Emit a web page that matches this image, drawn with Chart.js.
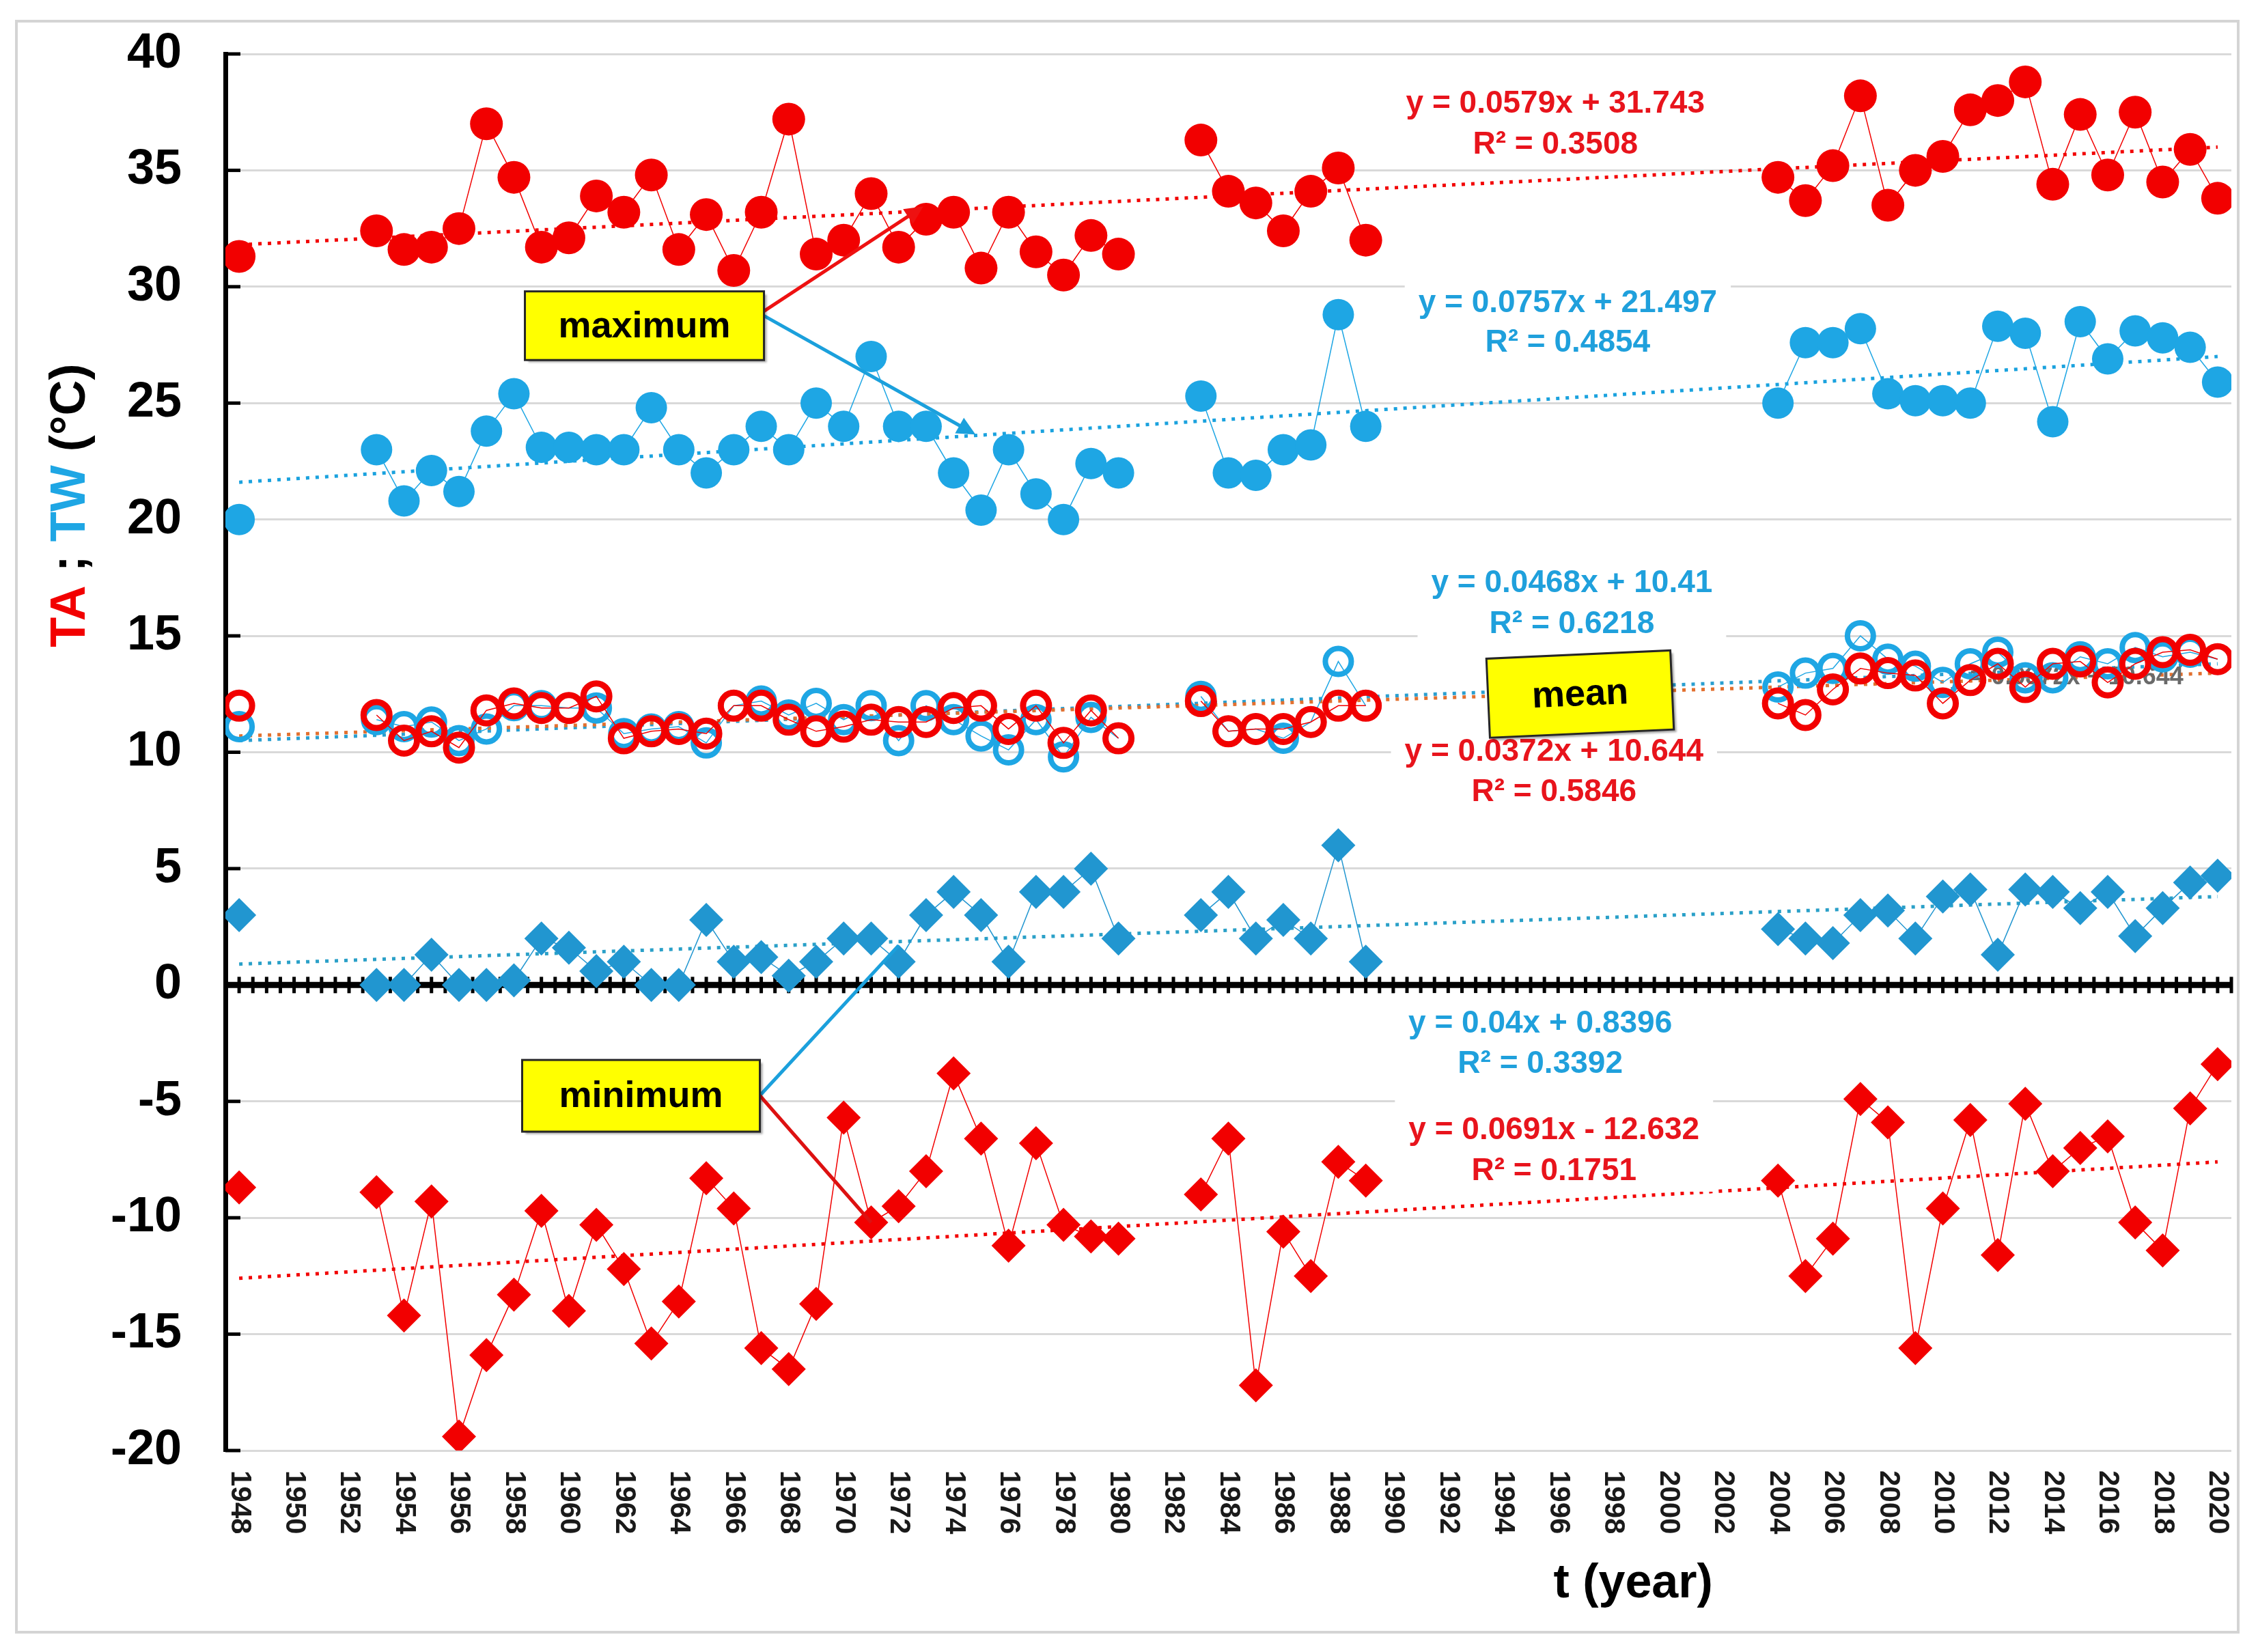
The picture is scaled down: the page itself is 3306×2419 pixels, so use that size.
<!DOCTYPE html>
<html>
<head>
<meta charset="utf-8">
<title>TA ; TW</title>
<script src="https://cdn.jsdelivr.net/npm/chart.js@4.4.1/dist/chart.umd.min.js"></script>
<style>
	html, body { margin: 0; padding: 0; background: #fff; }
	canvas { display: block; }
</style>
</head>
<body>
<canvas id="graficoTemperaturas" width="3306" height="2419"></canvas>
<script>
// observed years (gaps 1949-1952, 1981-1982, 1990-2003)
var years = [1948,
	1953, 1954, 1955, 1956, 1957, 1958, 1959, 1960, 1961, 1962, 1963, 1964, 1965, 1966,
	1967, 1968, 1969, 1970, 1971, 1972, 1973, 1974, 1975, 1976, 1977, 1978, 1979, 1980,
	1983, 1984, 1985, 1986, 1987, 1988, 1989,
	2004, 2005, 2006, 2007, 2008, 2009, 2010, 2011, 2012, 2013, 2014, 2015, 2016, 2017,
	2018, 2019, 2020];

var taMax = [31.3,
	32.4, 31.6, 31.7, 32.5, 37.0, 34.7, 31.7, 32.1, 33.9, 33.2, 34.8, 31.6, 33.1, 30.7,
	33.2, 37.2, 31.4, 32.0, 34.0, 31.7, 32.9, 33.2, 30.8, 33.2, 31.5, 30.5, 32.2, 31.4,
	36.3, 34.1, 33.6, 32.4, 34.1, 35.1, 32.0,
	34.7, 33.7, 35.2, 38.2, 33.5, 35.0, 35.6, 37.6, 38.0, 38.8, 34.4, 37.4, 34.8, 37.5,
	34.5, 35.9, 33.8];

var twMax = [20.0,
	23.0, 20.8, 22.1, 21.2, 23.8, 25.4, 23.1, 23.1, 23.0, 23.0, 24.8, 23.0, 22.0, 23.0,
	24.0, 23.0, 25.0, 24.0, 27.0, 24.0, 24.0, 22.0, 20.4, 23.0, 21.1, 20.0, 22.4, 22.0,
	25.3, 22.0, 21.9, 23.0, 23.2, 28.8, 24.0,
	25.0, 27.6, 27.6, 28.2, 25.4, 25.1, 25.1, 25.0, 28.3, 28.0, 24.2, 28.5, 26.9, 28.1,
	27.8, 27.4, 25.9];

var taMean = [12.0,
	11.6, 10.5, 10.9, 10.2, 11.8, 12.1, 11.9, 11.9, 12.4, 10.6, 10.9, 11.0, 10.8, 12.0,
	12.0, 11.4, 10.9, 11.1, 11.4, 11.3, 11.3, 11.9, 12.0, 11.0, 12.0, 10.4, 11.8, 10.6,
	12.2, 10.9, 11.0, 11.0, 11.3, 12.0, 12.0,
	12.1, 11.6, 12.7, 13.6, 13.4, 13.3, 12.1, 13.1, 13.8, 12.8, 13.8, 13.9, 13.0, 13.8,
	14.3, 14.4, 14.0];

var twMean = [11.1,
	11.4, 11.1, 11.3, 10.5, 11.0, 12.0, 12.0, 11.9, 11.9, 10.8, 11.0, 11.1, 10.4, 12.0,
	12.2, 11.6, 12.1, 11.4, 12.0, 10.5, 12.0, 11.4, 10.7, 10.1, 11.4, 9.8, 11.5, 10.6,
	12.4, 10.9, 11.0, 10.6, 11.3, 13.9, 12.0,
	12.8, 13.4, 13.6, 15.0, 14.0, 13.7, 13.0, 13.8, 14.3, 13.2, 13.2, 14.1, 13.8, 14.5,
	14.1, 14.3, 14.0];

var twMin = [3.0,
	0.0, 0.0, 1.3, 0.0, 0.0, 0.2, 2.0, 1.6, 0.6, 1.0, 0.0, 0.0, 2.8, 1.0,
	1.2, 0.4, 1.0, 2.0, 2.0, 1.0, 3.0, 4.0, 3.0, 1.0, 4.0, 4.0, 5.0, 2.0,
	3.0, 4.0, 2.0, 2.8, 2.0, 6.0, 1.0,
	2.4, 2.0, 1.8, 3.0, 3.2, 2.0, 3.8, 4.1, 1.3, 4.1, 4.0, 3.3, 4.0, 2.1,
	3.3, 4.4, 4.7];

var taMin = [-8.7,
	-8.9, -14.2, -9.3, -19.4, -15.9, -13.3, -9.7, -14.0, -10.3, -12.2, -15.4, -13.6, -8.3, -9.6,
	-15.6, -16.5, -13.7, -5.7, -10.2, -9.5, -8.0, -3.8, -6.6, -11.2, -6.8, -10.3, -10.8, -10.9,
	-9.0, -6.6, -17.2, -10.6, -12.5, -7.6, -8.4,
	-8.4, -12.5, -10.9, -4.9, -5.9, -15.6, -9.6, -5.8, -11.6, -5.1, -8.0, -7.0, -6.5, -10.2,
	-11.4, -5.3, -3.4];

// linear trend lines, start and end values
var trendYears = [1948, 2020];
var taMaxTrend = [31.8, 36.0];
var twMaxTrend = [21.6, 27.0];
var taMeanTrend = [10.7, 13.4];
var twMeanTrend = [10.5, 13.8];
var twMinTrend = [0.9, 3.8];
var taMinTrend = [-12.6, -7.6];

var xTickLabels = ['1948', '1950', '1952', '1954', '1956', '1958', '1960', '1962', '1964',
	'1966', '1968', '1970', '1972', '1974', '1976', '1978', '1980', '1982', '1984', '1986',
	'1988', '1990', '1992', '1994', '1996', '1998', '2000', '2002', '2004', '2006', '2008',
	'2010', '2012', '2014', '2016', '2018', '2020'];
var yTickValues = [-20, -15, -10, -5, 0, 5, 10, 15, 20, 25, 30, 35, 40];

var RED = '#f20000';
var BLUE = '#1ea6e4';
var BLUE_DARK = '#2196d0';
var TXT_RED = '#e8141c';
var TXT_BLUE = '#1fa0dc';
var FONT = '"Liberation Sans", Arial, Helvetica, sans-serif';

// trend equations as printed on the chart (positions in data units)
var equationLabels = [
	{ lines: ['y = 0.0579x + 31.743', 'R\u00b2 = 0.3508'], color: TXT_RED, x: 1995.9, y: [37.86, 36.1] },
	{ lines: ['y = 0.0757x + 21.497', 'R\u00b2 = 0.4854'], color: TXT_BLUE, x: 1996.35, y: [29.29, 27.59] },
	{ lines: ['y = 0.0468x + 10.41', 'R\u00b2 = 0.6218'], color: TXT_BLUE, x: 1996.5, y: [17.26, 15.5] },
	{ lines: ['y = 0.0372x + 10.644', 'R\u00b2 = 0.5846'], color: TXT_RED, x: 1995.85, y: [10.01, 8.28] },
	{ lines: ['y = 0.04x + 0.8396', 'R\u00b2 = 0.3392'], color: TXT_BLUE, x: 1995.35, y: [-1.67, -3.4] },
	{ lines: ['y = 0.0691x - 12.632', 'R\u00b2 = 0.1751'], color: TXT_RED, x: 1995.85, y: [-6.24, -8.0] }
];

var noteBoxes = [
	{ text: 'maximum', x1: 1958.4, x2: 1967.1, y1: 29.8, y2: 26.85, angle: 0 },
	{ text: 'mean', x1: 1993.45, x2: 2000.15, y1: 14.2, y2: 10.8, angle: -0.045 },
	{ text: 'minimum', x1: 1958.3, x2: 1966.95, y1: -3.22, y2: -6.3, angle: 0 }
];

var noteArrows = [
	{ from: [1967.1, 28.95], to: [1972.9, 33.45], color: '#ee1111', head: true },
	{ from: [1967.1, 28.75], to: [1974.8, 23.65], color: '#1ba0dc', head: true },
	{ from: [1966.95, -4.75], to: [1972.0, 1.7], color: '#1ba0dc', head: false },
	{ from: [1966.95, -4.75], to: [1971.0, -10.2], color: '#dd1111', head: false }
];

function points(values) {
	return years.map(function(ano, i) {
		return { x: ano, y: values[i] };
	});
}

function trendPoints(values) {
	return trendYears.map(function(ano, i) {
		return { x: ano, y: values[i] };
	});
}

function serie(values, color, shape, radius, ring) {
	return {
		data: points(values),
		borderColor: color,
		borderWidth: 1.5,
		pointStyle: shape,
		pointRadius: radius,
		pointBackgroundColor: ring ? 'rgba(255,255,255,0)' : color,
		pointBorderColor: color,
		pointBorderWidth: ring ? ring : 0,
		spanGaps: 1.5,
		order: 1
	};
}

function trend(values, color) {
	return {
		data: trendPoints(values),
		borderColor: color,
		borderWidth: 5,
		borderDash: [5, 9],
		pointRadius: 0,
		trend: true,
		order: 10
	};
}

var trendsDrawn = 0;

function px(chart, x) { return chart.scales.x.getPixelForValue(x); }
function py(chart, y) { return chart.scales.y.getPixelForValue(y); }

function drawEquations(chart) {
	var ctx = chart.ctx;
	ctx.save();
	ctx.font = 'bold 46px ' + FONT;
	ctx.textAlign = 'center';
	ctx.textBaseline = 'middle';
	equationLabels.forEach(function(lab) {
		var w = 0;
		lab.lines.forEach(function(l) { w = Math.max(w, ctx.measureText(l).width); });
		var cx = px(chart, lab.x);
		var top = py(chart, lab.y[0]) - 45;
		var bottom = py(chart, lab.y[lab.y.length - 1]) + 30;
		ctx.fillStyle = '#fff';
		ctx.fillRect(cx - w / 2 - 20, top, w + 40, bottom - top);
		ctx.fillStyle = lab.color;
		lab.lines.forEach(function(l, i) {
			ctx.fillText(l, cx, py(chart, lab.y[i]));
		});
	});
	// faint duplicate label hidden behind the mean markers
	ctx.font = 'bold 36px ' + FONT;
	ctx.fillStyle = '#6a6a6a';
	ctx.fillText('y = 0.0372x + 10.644', px(chart, 2014.5), py(chart, 13.21));
	ctx.restore();
}

function drawArrow(ctx, x1, y1, x2, y2, color, head) {
	ctx.save();
	ctx.strokeStyle = color;
	ctx.fillStyle = color;
	ctx.lineWidth = 5;
	var ang = Math.atan2(y2 - y1, x2 - x1);
	var len = 30;
	var ex = head ? x2 - Math.cos(ang) * len * 0.8 : x2;
	var ey = head ? y2 - Math.sin(ang) * len * 0.8 : y2;
	ctx.beginPath();
	ctx.moveTo(x1, y1);
	ctx.lineTo(ex, ey);
	ctx.stroke();
	if (head) {
		ctx.beginPath();
		ctx.moveTo(x2, y2);
		ctx.lineTo(x2 - Math.cos(ang - 0.45) * len, y2 - Math.sin(ang - 0.45) * len);
		ctx.lineTo(x2 - Math.cos(ang + 0.45) * len, y2 - Math.sin(ang + 0.45) * len);
		ctx.closePath();
		ctx.fill();
	}
	ctx.restore();
}

function drawNotes(chart) {
	var ctx = chart.ctx;
	noteArrows.forEach(function(a) {
		drawArrow(ctx, px(chart, a.from[0]), py(chart, a.from[1]),
			px(chart, a.to[0]), py(chart, a.to[1]), a.color, a.head);
	});
	noteBoxes.forEach(function(b) {
		var x1 = px(chart, b.x1), x2 = px(chart, b.x2);
		var y1 = py(chart, b.y1), y2 = py(chart, b.y2);
		var w = x2 - x1, h = y2 - y1;
		ctx.save();
		ctx.translate(x1 + w / 2, y1 + h / 2);
		ctx.rotate(b.angle);
		ctx.shadowColor = 'rgba(0,0,0,0.35)';
		ctx.shadowOffsetX = 4;
		ctx.shadowOffsetY = 4;
		ctx.shadowBlur = 3;
		ctx.fillStyle = '#ffff00';
		ctx.fillRect(-w / 2, -h / 2, w, h);
		ctx.shadowColor = 'rgba(0,0,0,0)';
		ctx.strokeStyle = '#262626';
		ctx.lineWidth = 3;
		ctx.strokeRect(-w / 2, -h / 2, w, h);
		ctx.fillStyle = '#000';
		ctx.font = 'bold 54px ' + FONT;
		ctx.textAlign = 'center';
		ctx.textBaseline = 'middle';
		ctx.fillText(b.text, 0, 2);
		ctx.restore();
	});
}

var decoracoes = {
	id: 'decoracoes',
	beforeDraw: function(chart) {
		var ctx = chart.ctx;
		ctx.save();
		ctx.fillStyle = '#fff';
		ctx.fillRect(0, 0, chart.width, chart.height);
		ctx.strokeStyle = '#d4d4d4';
		ctx.lineWidth = 4;
		ctx.strokeRect(24, 31, 3253, 2359);
		ctx.restore();
	},
	beforeDatasetsDraw: function(chart) {
		var ctx = chart.ctx;
		var area = chart.chartArea;
		var y0 = py(chart, 0);
		trendsDrawn = 0;
		ctx.save();
		// y axis inner tick marks
		ctx.strokeStyle = '#000';
		ctx.lineWidth = 5;
		yTickValues.forEach(function(v) {
			var y = py(chart, v);
			ctx.beginPath();
			ctx.moveTo(area.left, y);
			ctx.lineTo(area.left + 22, y);
			ctx.stroke();
		});
		// thick zero line with crossing ticks
		ctx.lineWidth = 9;
		ctx.beginPath();
		ctx.moveTo(area.left, y0);
		ctx.lineTo(area.right, y0);
		ctx.stroke();
		ctx.lineWidth = 5;
		for (var t = 1948; t <= 2020.5; t += 0.5) {
			var x = px(chart, t);
			ctx.beginPath();
			ctx.moveTo(x, y0 - 12);
			ctx.lineTo(x, y0 + 12);
			ctx.stroke();
		}
		ctx.restore();
	},
	afterDatasetDraw: function(chart, args) {
		if (chart.data.datasets[args.index].trend) {
			trendsDrawn++;
			if (trendsDrawn === 6) {
				drawEquations(chart);
			}
		}
	},
	afterDatasetsDraw: function(chart) {
		drawNotes(chart);
	},
	afterDraw: function(chart) {
		var ctx = chart.ctx;
		var area = chart.chartArea;
		ctx.save();
		// x tick labels, rotated clockwise
		ctx.font = 'bold 42px ' + FONT;
		ctx.fillStyle = '#1a1a1a';
		ctx.textAlign = 'left';
		ctx.textBaseline = 'middle';
		xTickLabels.forEach(function(lab) {
			ctx.save();
			ctx.translate(px(chart, Number(lab)), area.bottom + 29);
			ctx.rotate(Math.PI / 2);
			ctx.fillText(lab, 0, 0);
			ctx.restore();
		});
		// x title
		ctx.font = 'bold 70px ' + FONT;
		ctx.fillStyle = '#000';
		ctx.textAlign = 'center';
		ctx.fillText('t (year)', px(chart, 1998.73), area.bottom + 196);
		// y title, several colours
		var partes = [
			{ t: 'TA', c: RED },
			{ t: ' ; ', c: '#000' },
			{ t: 'TW', c: BLUE },
			{ t: ' (\u00b0C)', c: '#000' }
		];
		ctx.font = 'bold 72px ' + FONT;
		var total = 0;
		partes.forEach(function(p) { total += ctx.measureText(p.t).width; });
		ctx.translate(area.left - 226, py(chart, 20.6));
		ctx.rotate(-Math.PI / 2);
		ctx.textAlign = 'left';
		var pos = -total / 2;
		partes.forEach(function(p) {
			ctx.fillStyle = p.c;
			ctx.fillText(p.t, pos, 0);
			pos += ctx.measureText(p.t).width;
		});
		ctx.restore();
	}
};

var grafico = new Chart(document.getElementById('graficoTemperaturas').getContext('2d'), {
	type: 'line',
	data: {
		datasets: [
			serie(taMean, RED, 'circle', 19, 9),
			serie(twMean, BLUE, 'circle', 19, 8),
			serie(taMax, RED, 'circle', 24),
			serie(twMax, BLUE, 'circle', 23),
			serie(taMin, RED, 'rectRot', 25),
			serie(twMin, BLUE_DARK, 'rectRot', 25),
			trend(taMaxTrend, RED),
			trend(twMaxTrend, '#1aa2de'),
			trend(taMeanTrend, '#e2702f'),
			trend(twMeanTrend, '#2a9fd0'),
			trend(twMinTrend, '#2aa0c8'),
			trend(taMinTrend, RED)
		]
	},
	options: {
		responsive: false,
		devicePixelRatio: 1,
		animation: false,
		events: [],
		layout: { padding: { left: 0, top: 79, right: 39, bottom: 0 } },
		plugins: {
			legend: { display: false },
			tooltip: { enabled: false }
		},
		scales: {
			x: {
				type: 'linear',
				min: 1947.5,
				max: 2020.5,
				ticks: { display: false },
				grid: { display: false },
				border: { display: false },
				afterFit: function(scale) { scale.height = 295; }
			},
			y: {
				min: -20,
				max: 40,
				afterBuildTicks: function(scale) {
					scale.ticks = yTickValues.map(function(v) { return { value: v }; });
				},
				ticks: {
					color: '#000',
					padding: 28,
					font: { family: FONT, size: 72, weight: 'bold' }
				},
				grid: {
					color: '#d9d9d9',
					lineWidth: 3,
					drawTicks: true,
					tickLength: 36,
					tickColor: 'rgba(0,0,0,0)'
				},
				border: { color: '#000', width: 7 },
				afterFit: function(scale) { scale.width = 330; }
			}
		}
	},
	plugins: [decoracoes]
});
</script>
</body>
</html>
